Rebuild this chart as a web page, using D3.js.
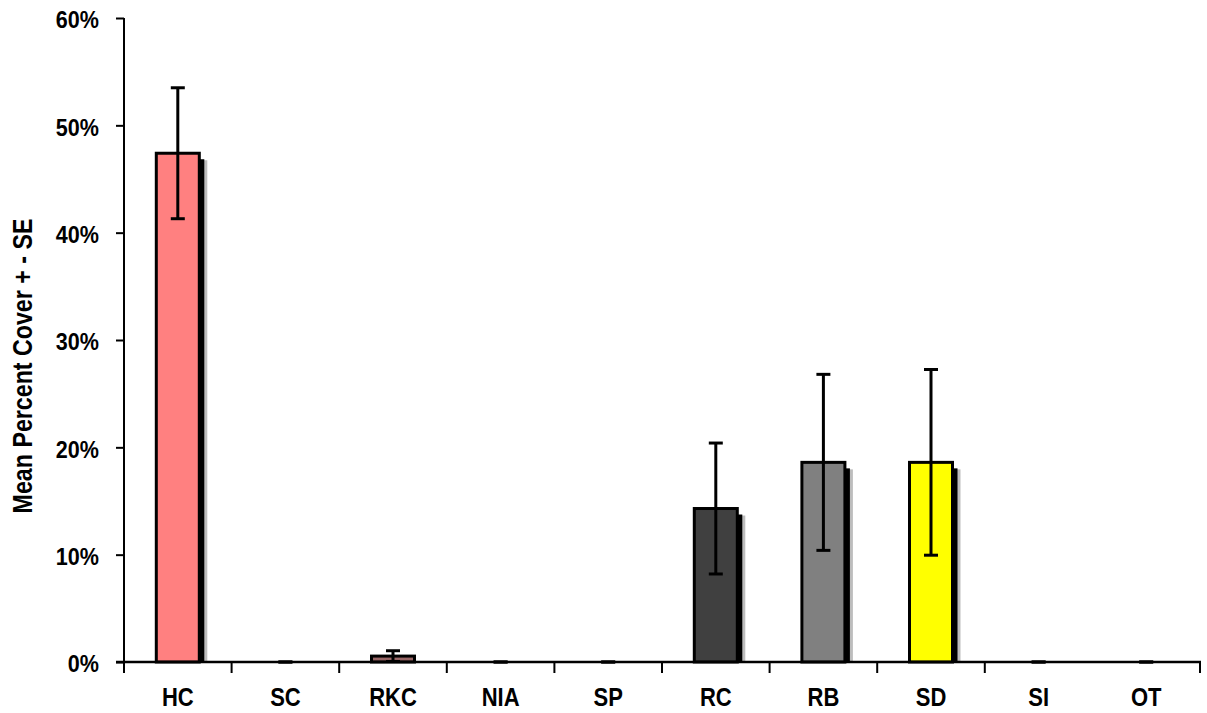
<!DOCTYPE html>
<html>
<head>
<meta charset="utf-8">
<script src="https://cdn.jsdelivr.net/npm/d3@7"></script>
<style>
  html, body { margin: 0; padding: 0; background: #fff; }
  svg { display: block; }
  text { font-family: Arial, "Liberation Sans", sans-serif; font-weight: bold; fill: #000; }
</style>
</head>
<body>
<svg id="chart" width="1207" height="713"></svg>
<script>
// ---- data ----
const categories = ["HC", "SC", "RKC", "NIA", "SP", "RC", "RB", "SD", "SI", "OT"];
const meanCover  = [0.474, 0, 0.0055, 0, 0, 0.143, 0.186, 0.186, 0, 0];
const stdError   = [0.061, 0, 0.005, 0, 0, 0.061, 0.082, 0.0865, 0, 0];
const barColors  = ["#FF8080", "#FF8080", "#996666", "#808080", "#808080", "#404040", "#808080", "#FFFF00", "#808080", "#808080"];
const yTicks     = [0, 0.1, 0.2, 0.3, 0.4, 0.5, 0.6];
const yLabel     = "Mean Percent Cover + - SE";

(function () {
// ---- layout ----
const mLeft = 124, mRight = 1200, mTop = 18, mBottom = 662;
const svg = d3.select("#chart");

const x = d3.scaleBand().domain(categories).range([mLeft, mRight]).paddingInner(0).paddingOuter(0);
const y = d3.scaleLinear().domain([0, 0.6]).range([mBottom, mTop]);

const barW = 43;
const data = categories.map((c, i) => ({ c, v: meanCover[i], e: stdError[i], col: barColors[i] }));
const cx = d => x(d.c) + x.bandwidth() / 2;

svg.append("defs").append("clipPath").attr("id", "plotclip")
  .append("rect").attr("x", 0).attr("y", 0).attr("width", 1207).attr("height", mBottom);

const bars = data.filter(d => d.v > 0);

// soft gray shadow edge
svg.append("g").attr("clip-path", "url(#plotclip)").selectAll("rect")
  .data(bars).join("rect")
  .attr("x", d => cx(d) - barW / 2 + 8)
  .attr("y", d => y(d.v) + 7)
  .attr("width", barW)
  .attr("height", d => mBottom - y(d.v))
  .attr("fill", "#bdbdbd");

// black shadow
svg.append("g").attr("clip-path", "url(#plotclip)").selectAll("rect")
  .data(bars).join("rect")
  .attr("x", d => cx(d) - barW / 2 + 5)
  .attr("y", d => y(d.v) + 6)
  .attr("width", barW)
  .attr("height", d => mBottom - y(d.v))
  .attr("fill", "#000");

// bars
svg.append("g").selectAll("rect")
  .data(bars).join("rect")
  .attr("x", d => cx(d) - barW / 2)
  .attr("y", d => y(d.v))
  .attr("width", barW)
  .attr("height", d => mBottom - y(d.v))
  .attr("fill", d => d.col)
  .attr("stroke", "#000")
  .attr("stroke-width", 3);

// error bars
const capW = 14;
const eg = svg.append("g").attr("stroke", "#000").attr("stroke-width", 3);
data.forEach(d => {
  const yHi = y(d.v + d.e), yLo = y(Math.max(0, d.v - d.e));
  if (d.e > 0) {
    eg.append("line").attr("x1", cx(d)).attr("x2", cx(d)).attr("y1", yHi).attr("y2", yLo);
  }
  eg.append("line").attr("x1", cx(d) - capW / 2).attr("x2", cx(d) + capW / 2).attr("y1", yHi).attr("y2", yHi);
  eg.append("line").attr("x1", cx(d) - capW / 2).attr("x2", cx(d) + capW / 2).attr("y1", yLo).attr("y2", yLo);
});

// y axis
const yAxis = d3.axisLeft(y).tickValues(yTicks).tickSize(8).tickPadding(0).tickFormat(d3.format(".0%"));
const ya = svg.append("g").attr("transform", `translate(${mLeft},0)`).call(yAxis);
ya.select(".domain").remove();
ya.selectAll(".tick line").attr("stroke", "#000").attr("stroke-width", 2);
ya.selectAll(".tick text")
  .attr("x", 0).attr("dy", "0.36em")
  .attr("transform", "translate(-25,1) scale(0.88,1)")
  .style("font-size", "24.5px").style("font-family", "Arial, 'Liberation Sans', sans-serif").style("font-weight", "bold")
  .attr("text-anchor", "end").attr("fill", "#000");
svg.append("line").attr("x1", mLeft).attr("x2", mLeft).attr("y1", mTop).attr("y2", mBottom + 11)
  .attr("stroke", "#000").attr("stroke-width", 2);

// x axis
svg.append("line").attr("x1", mLeft - 8).attr("x2", mRight + 1).attr("y1", mBottom).attr("y2", mBottom)
  .attr("stroke", "#000").attr("stroke-width", 2.5);
const tickXs = categories.filter(c => c !== "OT").map(c => x(c)).concat([mRight]);
svg.append("g").selectAll("line").data(tickXs).join("line")
  .attr("x1", d => d).attr("x2", d => d).attr("y1", mBottom).attr("y2", mBottom + 11)
  .attr("stroke", "#000").attr("stroke-width", 2);
svg.append("g").selectAll("text").data(categories).join("text")
  .attr("transform", c => `translate(${x(c) + x.bandwidth() / 2},706) scale(0.88,1)`)
  .attr("text-anchor", "middle")
  .style("font-size", "25px")
  .text(c => c);

// y label
svg.append("text")
  .attr("transform", "translate(32,366) rotate(-90) scale(0.86,1)")
  .attr("text-anchor", "middle")
  .style("font-size", "27px")
  .text(yLabel);
})();
</script>
</body>
</html>
